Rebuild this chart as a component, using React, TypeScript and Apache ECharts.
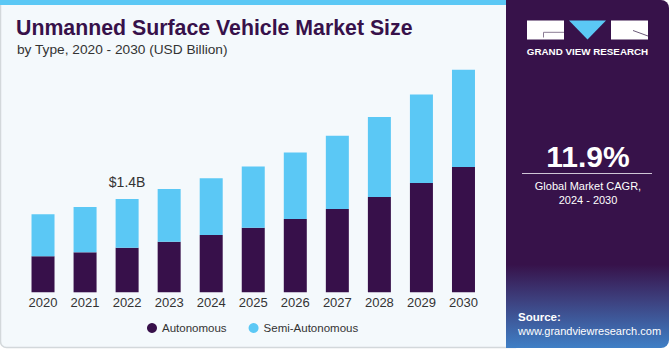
import React, { useEffect, useRef } from "react";
import * as echarts from "echarts";

const years = ["2020", "2021", "2022", "2023", "2024", "2025", "2026", "2027", "2028", "2029", "2030"];
const autonomous = [0.54, 0.6, 0.67, 0.76, 0.86, 0.97, 1.1, 1.25, 1.43, 1.64, 1.88];
const semiAutonomous = [0.63, 0.68, 0.73, 0.79, 0.85, 0.92, 1.0, 1.1, 1.2, 1.33, 1.46];
const highlightIndex = 2;
const highlightLabel = "$1.4B";

const DARK = "#37104a";
const LIGHT = "#5bc8f5";
const FONT = "'Liberation Sans', Arial, sans-serif";

export default function App() {
  const ref = useRef<HTMLDivElement>(null);
  useEffect(() => {
    document.body.style.margin = "0";
    const chart = echarts.init(ref.current!, null, { renderer: "svg" });
    chart.setOption({
      animation: false,
      backgroundColor: "#ffffff",
      textStyle: { fontFamily: FONT },
      graphic: [
        { type: "rect", z: -10, shape: { x: 0.5, y: 0.5, width: 515, height: 347, r: [0, 0, 0, 6] }, style: { fill: "#f4f9fc", stroke: "#d3d8db", lineWidth: 1.5 } },
        { type: "rect", z: -9, shape: { x: 0, y: 0, width: 510, height: 5 }, style: { fill: LIGHT } },
        {
          type: "rect", z: -8,
          shape: { x: 506, y: 0, width: 163, height: 348, r: [0, 8, 8, 0] },
          style: {
            fill: new echarts.graphic.LinearGradient(0, 0, 0, 1, [
              { offset: 0, color: "#37124a" },
              { offset: 0.76, color: "#37124a" },
              { offset: 0.86, color: "#3d3f7d" },
              { offset: 1, color: "#3f7fc6" },
            ]),
          },
        },
        // logo
        { type: "rect", shape: { x: 527, y: 20.5, width: 37, height: 19 }, style: { fill: "#ffffff" } },
        { type: "polyline", shape: { points: [[564, 32.3], [543.5, 32.3], [543.5, 37.5]] }, style: { stroke: "#8a7c94", lineWidth: 1, fill: null } },
        { type: "polygon", shape: { points: [[569, 20.5], [606, 20.5], [587.5, 39.5]] }, style: { fill: LIGHT } },
        { type: "rect", shape: { x: 611, y: 20.5, width: 37, height: 19 }, style: { fill: "#ffffff" } },
        { type: "line", shape: { x1: 633, y1: 30.5, x2: 648, y2: 36 }, style: { stroke: "#6a5a78", lineWidth: 1 } },
        { type: "text", style: { text: "GRAND VIEW RESEARCH", x: 587.5, y: 51, align: "center", verticalAlign: "middle", fill: "#ffffff", font: `bold 9.8px ${FONT}` } },
        // CAGR
        { type: "text", style: { text: "11.9%", x: 588, y: 156, align: "center", verticalAlign: "middle", fill: "#ffffff", font: `bold 30px ${FONT}` } },
        { type: "line", shape: { x1: 522, y1: 173.5, x2: 652, y2: 173.5 }, style: { stroke: "#cfc6d6", lineWidth: 1 } },
        { type: "text", style: { text: "Global Market CAGR,", x: 588, y: 186, align: "center", verticalAlign: "middle", fill: "#ffffff", font: `11px ${FONT}` } },
        { type: "text", style: { text: "2024 - 2030", x: 588, y: 200, align: "center", verticalAlign: "middle", fill: "#ffffff", font: `11px ${FONT}` } },
        { type: "text", style: { text: "Source:", x: 518, y: 317, align: "left", verticalAlign: "middle", fill: "#ffffff", font: `bold 11.5px ${FONT}` } },
        { type: "text", style: { text: "www.grandviewresearch.com", x: 518, y: 330.5, align: "left", verticalAlign: "middle", fill: "#ffffff", font: `11px ${FONT}` } },
      ],
      title: [
        { text: "Unmanned Surface Vehicle Market Size", left: 16, top: 17, padding: 0, textStyle: { fontFamily: FONT, fontSize: 21.3, fontWeight: "bold", color: "#37114a" } },
        { text: "by Type, 2020 - 2030 (USD Billion)", left: 17, top: 42, padding: 0, textStyle: { fontFamily: FONT, fontSize: 13.7, fontWeight: "normal", color: "#333333" } },
      ],
      legend: {
        left: 142,
        top: 317,
        icon: "circle",
        itemWidth: 10,
        itemHeight: 10,
        itemGap: 22,
        textStyle: { fontFamily: FONT, fontSize: 11.5, color: "#333333" },
        data: ["Autonomous", "Semi-Autonomous"],
      },
      grid: { left: 22, right: 185.5, top: 25.8, bottom: 57.7, containLabel: false },
      xAxis: {
        type: "category",
        data: years,
        axisLine: { show: false },
        axisTick: { show: false },
        axisLabel: { fontFamily: FONT, fontSize: 13, color: "#333333", margin: 4 },
      },
      yAxis: { type: "value", min: 0, max: 4, show: false, splitLine: { show: false } },
      series: [
        {
          name: "Autonomous",
          type: "bar",
          stack: "total",
          barWidth: 23,
          data: autonomous,
          itemStyle: { color: DARK },
        },
        {
          name: "Semi-Autonomous",
          type: "bar",
          stack: "total",
          barWidth: 23,
          data: semiAutonomous.map((v, i) =>
            i === highlightIndex
              ? { value: v, label: { show: true, position: "top", distance: 10, formatter: highlightLabel, fontFamily: FONT, fontSize: 14, color: "#333333" } }
              : v
          ),
          itemStyle: { color: LIGHT },
        },
      ],
    });
    return () => chart.dispose();
  }, []);
  return <div ref={ref} style={{ width: 670, height: 350 }} />;
}
